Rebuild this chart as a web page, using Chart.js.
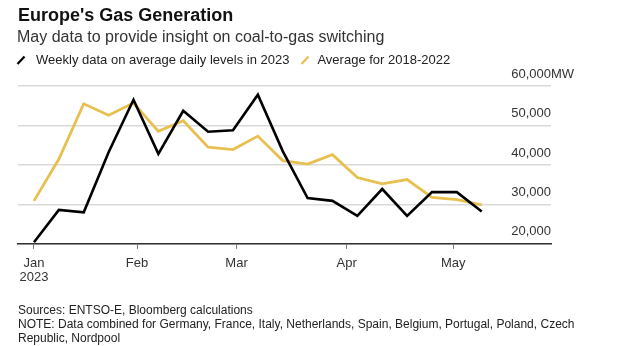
<!DOCTYPE html>
<html>
<head>
<meta charset="utf-8">
<script src="https://cdn.jsdelivr.net/npm/chart.js@4"></script>
<style>
  body { margin: 0; background: #fff; font-family: "Liberation Sans", Arial, sans-serif; }
  #wrap { position: relative; width: 627px; height: 346px; overflow: hidden; }
  #chart { position: absolute; left: 0; top: 0; }
  .txt { position: absolute; left: 17px; white-space: nowrap; color: #222; }
  #title { top: 5px; left: 18px; font-size: 18px; font-weight: bold; color: #111; }
  #sub { top: 28px; font-size: 16px; color: #333; }
  #legend { top: 52px; left: 16px; font-size: 13px; }
  #legend svg { vertical-align: -1px; margin-right: 10px; }
  #legend .item2 { margin-left: 11px; }
  #legend .item2 svg { margin-right: 7px; }
  #foot { top: 303px; left: 18px; font-size: 12px; line-height: 14px; color: #222; }
</style>
</head>
<body>
<div id="wrap">
  <canvas id="chart" width="627" height="346"></canvas>
  <div class="txt" id="title">Europe's Gas Generation</div>
  <div class="txt" id="sub">May data to provide insight on coal-to-gas switching</div>
  <div class="txt" id="legend"><svg width="10" height="10"><line x1="1.5" y1="9" x2="8.5" y2="1.5" stroke="#000" stroke-width="2.2"/></svg>Weekly data on average daily levels in 2023<span class="item2"><svg width="10" height="10"><line x1="1.5" y1="9" x2="8.5" y2="1.5" stroke="#e8c050" stroke-width="2.2"/></svg>Average for 2018-2022</span></div>
  <div class="txt" id="foot">Sources: ENTSO-E, Bloomberg calculations<br>NOTE: Data combined for Germany, France, Italy, Netherlands, Spain, Belgium, Portugal, Poland, Czech<br>Republic, Nordpool</div>
</div>
<script>
// week dates (2023)
var weeks = ["2023-01-03", "2023-01-10", "2023-01-17", "2023-01-24", "2023-01-31",
  "2023-02-07", "2023-02-14", "2023-02-21", "2023-02-28", "2023-03-07",
  "2023-03-14", "2023-03-21", "2023-03-28", "2023-04-04", "2023-04-11",
  "2023-04-18", "2023-04-25", "2023-05-02", "2023-05-09"];

// MW, weekly data on average daily levels in 2023
var gas2023 = [20400, 28600, 28000, 43200, 56500, 42800, 53700, 48400, 48800, 57800,
  43500, 31600, 30900, 27100, 33900, 27100, 33100, 33100, 28200];

// MW, average for 2018-2022
var gasAvg = [30900, 41500, 55500, 52600, 55700, 48500, 51200, 44500, 43900, 47300,
  41100, 40200, 42600, 36800, 35200, 36300, 31800, 31200, 29900];

var tickDates = ["2023-01-03", "2023-02-01", "2023-03-01", "2023-04-01", "2023-05-01"];
var tickLabels = [["Jan", "2023"], "Feb", "Mar", "Apr", "May"];
var yTicks = [20000, 30000, 40000, 50000, 60000];

function dayOf(s) {
  return (Date.parse(s) - Date.parse("2023-01-01")) / 86400000;
}

var xs = weeks.map(dayOf);
var tickDays = tickDates.map(dayOf);

// y labels sit just above their gridlines, "MW" hangs off the top one
var yLabels = {
  id: "yLabels",
  afterDatasetsDraw: function (chart) {
    var ctx = chart.ctx;
    var y = chart.scales.y;
    var right = chart.chartArea.right;
    ctx.save();
    ctx.font = "13px 'Liberation Sans', Arial, sans-serif";
    ctx.fillStyle = "#333";
    ctx.textBaseline = "middle";
    yTicks.forEach(function (v) {
      var py = y.getPixelForValue(v) - 12;
      ctx.textAlign = "right";
      ctx.fillText(v.toLocaleString("en-US"), right, py);
      if (v === 60000) {
        ctx.textAlign = "left";
        ctx.fillText("MW", right, py);
      }
    });
    ctx.restore();
  }
};

var chart = new Chart(document.getElementById("chart").getContext("2d"), {
  type: "line",
  data: {
    datasets: [
      {
        label: "Weekly data on average daily levels in 2023",
        data: xs.map(function (x, i) { return { x: x, y: gas2023[i] }; }),
        borderColor: "#000",
        borderWidth: 2.6,
        pointRadius: 0,
        tension: 0
      },
      {
        label: "Average for 2018-2022",
        data: xs.map(function (x, i) { return { x: x, y: gasAvg[i] }; }),
        borderColor: "#e8c050",
        borderWidth: 2.8,
        pointRadius: 0,
        tension: 0
      }
    ]
  },
  options: {
    responsive: false,
    animation: false,
    layout: { padding: { left: 18, right: 76, top: 86, bottom: 54 } },
    plugins: { legend: { display: false }, tooltip: { enabled: false } },
    scales: {
      x: {
        type: "linear",
        min: -2.5,
        max: 147.5,
        afterBuildTicks: function (axis) {
          axis.ticks = tickDays.map(function (d) { return { value: d }; });
        },
        ticks: {
          autoSkip: false,
          maxRotation: 0,
          padding: 7,
          color: "#333",
          font: { family: "'Liberation Sans', Arial, sans-serif", size: 13, lineHeight: 1.12 },
          callback: function (v) {
            return tickLabels[tickDays.indexOf(v)];
          }
        },
        grid: { drawOnChartArea: false, drawTicks: true, tickLength: 5, color: "#777", lineWidth: 1 },
        border: { display: true, color: "#333", width: 1.5 }
      },
      y: {
        position: "right",
        min: 20000,
        max: 60000,
        afterBuildTicks: function (axis) {
          axis.ticks = yTicks.map(function (v) { return { value: v }; });
        },
        ticks: { display: false },
        grid: { color: "#d9d9d9", lineWidth: 1.5, drawTicks: false },
        border: { display: false }
      }
    }
  },
  plugins: [yLabels]
});
</script>
</body>
</html>
